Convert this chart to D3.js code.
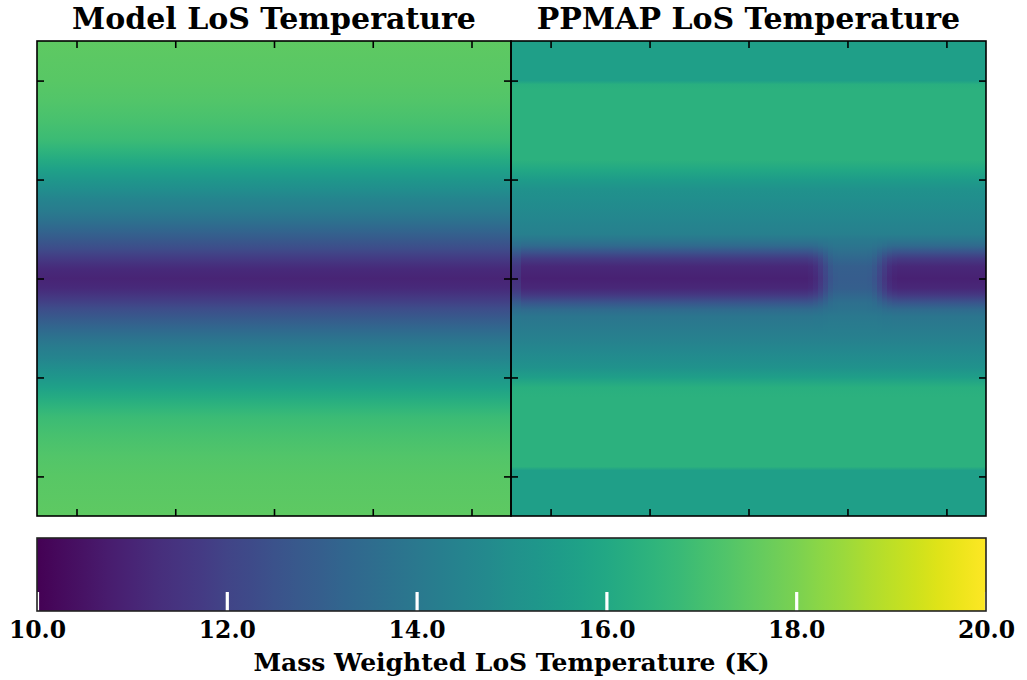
<!DOCTYPE html>
<html><head><meta charset="utf-8">
<script src="https://cdn.jsdelivr.net/npm/d3@7"></script>
<style>body{margin:0;background:#fff}svg{display:block}</style>
</head><body>
<svg id="chart" width="1027" height="680"></svg>
<script>
// ---- data ----
const panelTitles = ["Model LoS Temperature", "PPMAP LoS Temperature"];
const axisTicks = [-2, -1, 0, 1, 2];
const extent = [-2.4, 2.4];
// Model panel: temperature by row (y, top positive)
const modelRowY = [2.4, 2.0, 1.8, 1.6, 1.4, 1.3, 1.2, 1.1, 1.0, 0.9, 0.8, 0.7, 0.6, 0.5, 0.4, 0.3, 0.2, 0.1, 0.0,
  -0.1, -0.2, -0.3, -0.4, -0.5, -0.6, -0.7, -0.8, -0.9, -1.0, -1.1, -1.2, -1.3, -1.4, -1.6, -1.8, -2.0, -2.4];
const modelRowT = [17.5, 17.4, 17.3, 17.1, 16.8, 16.5, 16.1, 15.7, 15.3, 14.9, 14.5, 14.2, 13.8, 13.3, 12.8, 12.3, 11.7, 11.2, 11.0,
  11.2, 11.7, 12.3, 12.8, 13.3, 13.8, 14.2, 14.5, 14.9, 15.3, 15.7, 16.1, 16.5, 16.8, 17.1, 17.3, 17.4, 17.5];
// PPMAP panel: row profile with the cold band at full depth, and inside the gap
const ppmapRowY = [2.4, 2.0, 1.96, 1.9, 1.2, 1.1, 1.0, 0.9, 0.8, 0.6, 0.45, 0.4, 0.33, 0.27, 0.2, 0.12, 0.0,
  -0.1, -0.17, -0.24, -0.31, -0.38, -0.6, -0.75, -0.9, -1.0, -1.1, -1.2, -1.9, -1.94, -2.4];
const ppmapFullT = [15.6, 15.6, 16.3, 16.4, 16.4, 16.0, 15.5, 15.1, 14.9, 14.6, 14.3, 14.0, 13.4, 12.6, 11.7, 11.1, 10.9,
  11.1, 11.7, 12.6, 13.4, 13.9, 14.3, 14.7, 15.1, 15.6, 16.3, 16.4, 16.4, 15.6, 15.6];
const ppmapGapT = [15.6, 15.6, 16.3, 16.4, 16.4, 16.0, 15.5, 15.1, 14.9, 14.6, 14.3, 14.1, 13.9, 13.6, 13.3, 13.0, 12.9,
  13.0, 13.3, 13.6, 13.8, 14.0, 14.3, 14.7, 15.1, 15.6, 16.3, 16.4, 16.4, 15.6, 15.6];
// PPMAP columns (x edges) and strength of the cold band in each column
const ppmapColEdges = [-2.4,-2.3,-2.2,-2.1,-2.0,-1.9,-1.8,-1.7,-1.6,-1.5,-1.4,-1.3,-1.2,-1.1,-1.0,-0.9,-0.8,-0.7,-0.6,-0.5,-0.4,-0.3,-0.2,-0.1,0.0,
  0.1,0.2,0.3,0.4,0.5,0.6,0.65,0.7,0.75,0.8,0.85,0.9,0.95,1.0,1.05,1.1,1.15,1.2,1.25,1.3,1.35,1.4,1.45,1.5,1.55,1.6,
  1.7,1.8,1.9,2.0,2.1,2.2,2.3,2.4];
const ppmapBand = [0.75,1,1,1,1,1,1,1,1,1,1,1,1,1,1,1,1,1,1,1,1,1,1,1,
  1,1,1,1,1,1,
  0.95,0.85,0.65,0.4,0.15,0.03,0,0,0,0,0,0,0.03,0.15,0.4,0.65,0.85,0.95,1,1,
  1,1,1,1,1,1,1,1];
// colour bar
const cbDomain = [10, 20];
const cbTicks = [10, 12, 14, 16, 18, 20];
const cbLabel = "Mass Weighted LoS Temperature (K)";

// ---- layout ----
const svg = d3.select("#chart");
const pTop = 41, pBot = 516;
const panels = [{x0: 37, x1: 511}, {x0: 511, x1: 986}];
const y = d3.scaleLinear().domain(extent).range([pBot, pTop]);
const color = d3.scaleSequential(d3.interpolateViridis).domain(cbDomain);
const defs = svg.append("defs");
const font = "'DejaVu Serif', serif";

function vGradient(id, ys, ts) {
  const g = defs.append("linearGradient").attr("id", id)
    .attr("gradientUnits", "userSpaceOnUse")
    .attr("x1", 0).attr("x2", 0).attr("y1", pTop).attr("y2", pBot);
  g.selectAll("stop").data(ys.map((v, i) => [v, ts[i]])).join("stop")
    .attr("offset", d => (y(d[0]) - pTop) / (pBot - pTop))
    .attr("stop-color", d => color(d[1]));
}

// model panel
const xL = d3.scaleLinear().domain(extent).range([panels[0].x0, panels[0].x1]);
vGradient("gModel", modelRowY, modelRowT);
svg.append("rect").attr("x", xL(extent[0])).attr("y", pTop)
  .attr("width", xL(extent[1]) - xL(extent[0])).attr("height", pBot - pTop)
  .attr("fill", "url(#gModel)");

// ppmap panel
const xR = d3.scaleLinear().domain(extent).range([panels[1].x0, panels[1].x1]);
const cols = ppmapBand.map((s, i) => ({x0: ppmapColEdges[i], x1: ppmapColEdges[i + 1], s, i}));
cols.forEach(c => {
  vGradient("gP" + c.i, ppmapRowY, ppmapFullT.map((f, k) => ppmapGapT[k] + c.s * (f - ppmapGapT[k])));
});
svg.append("g").attr("shape-rendering", "crispEdges").selectAll("rect").data(cols).join("rect")
  .attr("x", d => Math.round(xR(d.x0))).attr("y", pTop)
  .attr("width", d => Math.round(xR(d.x1)) - Math.round(xR(d.x0))).attr("height", pBot - pTop)
  .attr("fill", d => "url(#gP" + d.i + ")");

// ticks + frames
[xL, xR].forEach((xs, p) => {
  const tk = 7;
  const mk = (axis, tr) => svg.append("g").attr("transform", tr)
    .call(axis.tickValues(axisTicks).tickSize(-tk).tickSizeOuter(0).tickFormat(""))
    .call(g => g.select(".domain").remove())
    .call(g => g.selectAll("line").attr("stroke", "#000").attr("stroke-width", 1.6));
  mk(d3.axisBottom(xs), `translate(0,${pBot})`);
  mk(d3.axisTop(xs), `translate(0,${pTop})`);
  mk(d3.axisLeft(y), `translate(${xs(extent[0])},0)`);
  mk(d3.axisRight(y), `translate(${xs(extent[1])},0)`);
  svg.append("rect").attr("x", xs(extent[0])).attr("y", pTop)
    .attr("width", xs(extent[1]) - xs(extent[0])).attr("height", pBot - pTop)
    .attr("fill", "none").attr("stroke", "#000").attr("stroke-width", 1.6);
  svg.append("text").attr("x", (xs(extent[0]) + xs(extent[1])) / 2).attr("y", 29)
    .attr("text-anchor", "middle").attr("font-family", font).attr("font-weight", "bold")
    .attr("font-size", 30).attr("fill", "#000").text(panelTitles[p]);
});

// colour bar
const cbTop = 538, cbBot = 611;
const cx = d3.scaleLinear().domain(cbDomain).range([37, 986]);
const cg = defs.append("linearGradient").attr("id", "gCB")
  .attr("gradientUnits", "userSpaceOnUse")
  .attr("x1", cx(cbDomain[0])).attr("x2", cx(cbDomain[1])).attr("y1", 0).attr("y2", 0);
cg.selectAll("stop").data(d3.range(cbDomain[0], cbDomain[1] + 0.001, 0.25)).join("stop")
  .attr("offset", d => (d - cbDomain[0]) / (cbDomain[1] - cbDomain[0]))
  .attr("stop-color", d => color(d));
svg.append("rect").attr("x", cx(cbDomain[0])).attr("y", cbTop)
  .attr("width", cx(cbDomain[1]) - cx(cbDomain[0])).attr("height", cbBot - cbTop)
  .attr("fill", "url(#gCB)");
svg.append("g").attr("transform", `translate(0,${cbBot})`)
  .call(d3.axisBottom(cx).tickValues(cbTicks).tickSize(-19).tickSizeOuter(0)
    .tickPadding(10).tickFormat(d3.format(".1f")))
  .call(g => g.select(".domain").remove())
  .call(g => g.selectAll("line").attr("stroke", "#fff").attr("stroke-width", 3.2))
  .call(g => g.selectAll("text").attr("font-family", font).attr("font-weight", "bold")
    .attr("font-size", 23.5).attr("fill", "#000"));
svg.append("rect").attr("x", cx(cbDomain[0])).attr("y", cbTop)
  .attr("width", cx(cbDomain[1]) - cx(cbDomain[0])).attr("height", cbBot - cbTop)
  .attr("fill", "none").attr("stroke", "#222").attr("stroke-width", 1.6);
svg.append("text").attr("x", (cx(cbDomain[0]) + cx(cbDomain[1])) / 2).attr("y", 671)
  .attr("text-anchor", "middle").attr("font-family", font).attr("font-weight", "bold")
  .attr("font-size", 25).attr("fill", "#000").text(cbLabel);
</script>
</body></html>
